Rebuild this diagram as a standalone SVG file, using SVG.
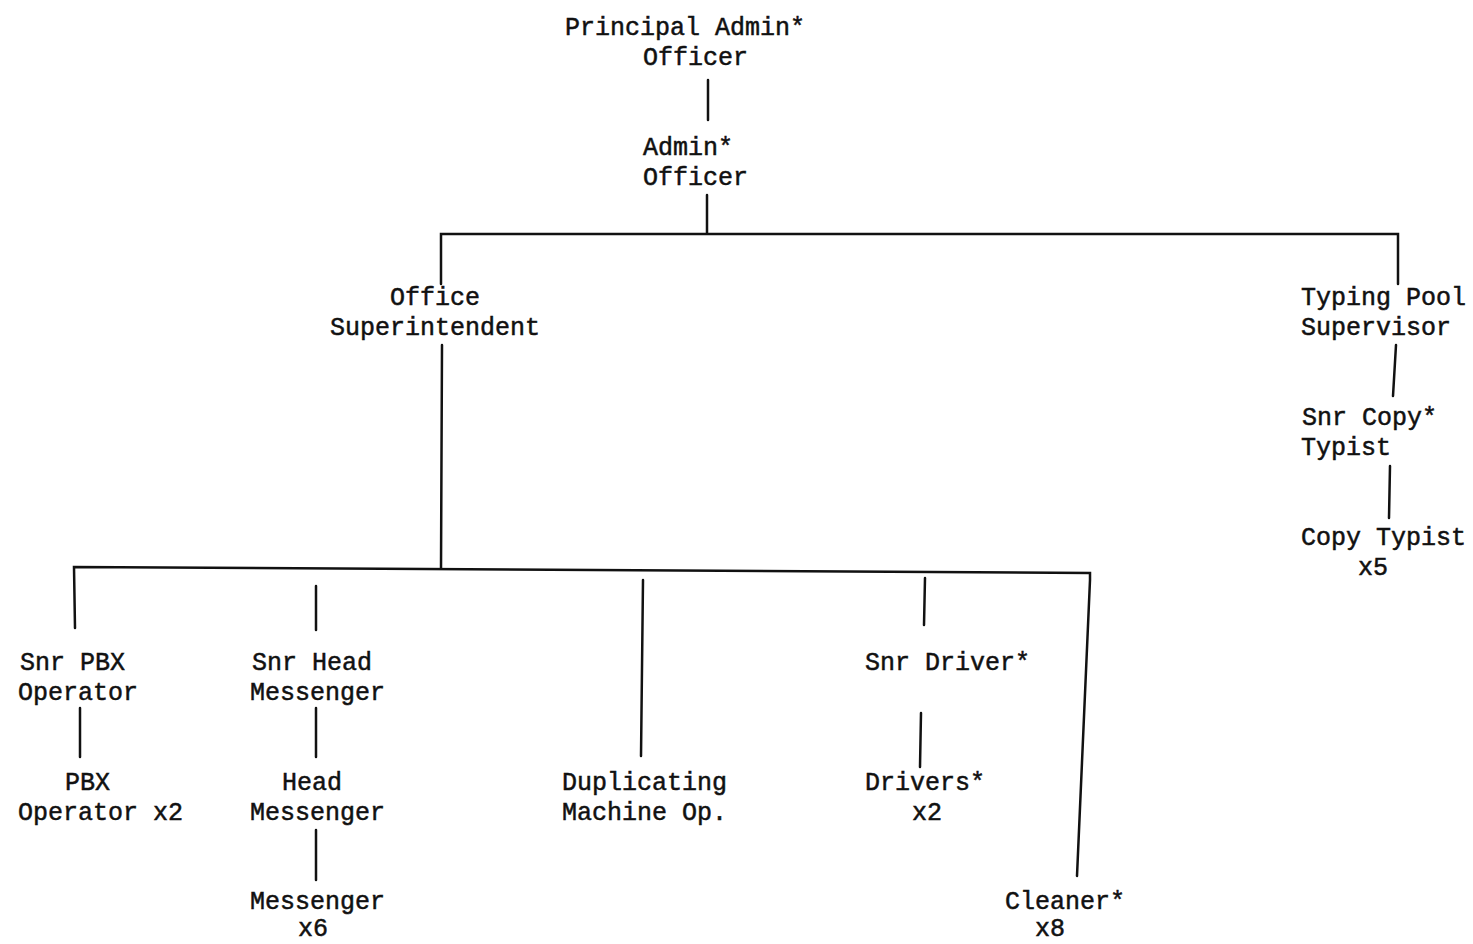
<svg xmlns="http://www.w3.org/2000/svg" width="1473" height="944" viewBox="0 0 1473 944">
<style>
text{font-family:"Liberation Mono","DejaVu Sans Mono",monospace;font-size:25px;fill:#111;stroke:#111;stroke-width:0.5}
.c line,.c path{stroke:#111;stroke-width:2.5;fill:none;stroke-linecap:round}
</style>
<rect width="1473" height="944" fill="#fff"/>
<g class="c" id="connectors">
<line x1="708" y1="80" x2="708" y2="120"/>
<line x1="707" y1="195" x2="707" y2="233"/>
<path d="M441 284 L441 234 L1398 234 L1398 284"/>
<line x1="442" y1="345" x2="441" y2="568"/>
<line x1="1396" y1="345" x2="1393" y2="396"/>
<line x1="1390" y1="466" x2="1389" y2="518"/>
<path d="M75 628 L74 567 L1090 573 L1090 580 L1077 876"/>
<line x1="80" y1="708" x2="80" y2="757"/>
<line x1="316" y1="586" x2="316" y2="630"/>
<line x1="316" y1="708" x2="316" y2="757"/>
<line x1="316" y1="830" x2="316" y2="880"/>
<line x1="643" y1="580" x2="641" y2="756"/>
<line x1="925" y1="578" x2="924" y2="625"/>
<line x1="921" y1="713" x2="920" y2="767"/>
</g>
<g id="principal"><text x="565" y="35">Principal Admin*</text><text x="643" y="65">Officer</text></g>
<g id="admin"><text x="643" y="155">Admin*</text><text x="643" y="185">Officer</text></g>
<g id="superintendent"><text x="390" y="305">Office</text><text x="330" y="335">Superintendent</text></g>
<g id="typing-pool"><text x="1301" y="305">Typing Pool</text><text x="1301" y="335">Supervisor</text></g>
<g id="snr-copy"><text x="1302" y="425">Snr Copy*</text><text x="1301" y="455">Typist</text></g>
<g id="copy-typist"><text x="1301" y="545">Copy Typist</text><text x="1358" y="575">x5</text></g>
<g id="snr-pbx"><text x="20" y="670">Snr PBX</text><text x="18" y="700">Operator</text></g>
<g id="pbx"><text x="65" y="790">PBX</text><text x="18" y="820">Operator x2</text></g>
<g id="snr-head"><text x="252" y="670">Snr Head</text><text x="250" y="700">Messenger</text></g>
<g id="head"><text x="282" y="790">Head</text><text x="250" y="820">Messenger</text></g>
<g id="messenger"><text x="250" y="909">Messenger</text><text x="298" y="936">x6</text></g>
<g id="duplicating"><text x="562" y="790">Duplicating</text><text x="562" y="820">Machine Op.</text></g>
<g id="snr-driver"><text x="865" y="670">Snr Driver*</text></g>
<g id="drivers"><text x="865" y="790">Drivers*</text><text x="912" y="820">x2</text></g>
<g id="cleaner"><text x="1005" y="909">Cleaner*</text><text x="1035" y="936">x8</text></g>
</svg>
